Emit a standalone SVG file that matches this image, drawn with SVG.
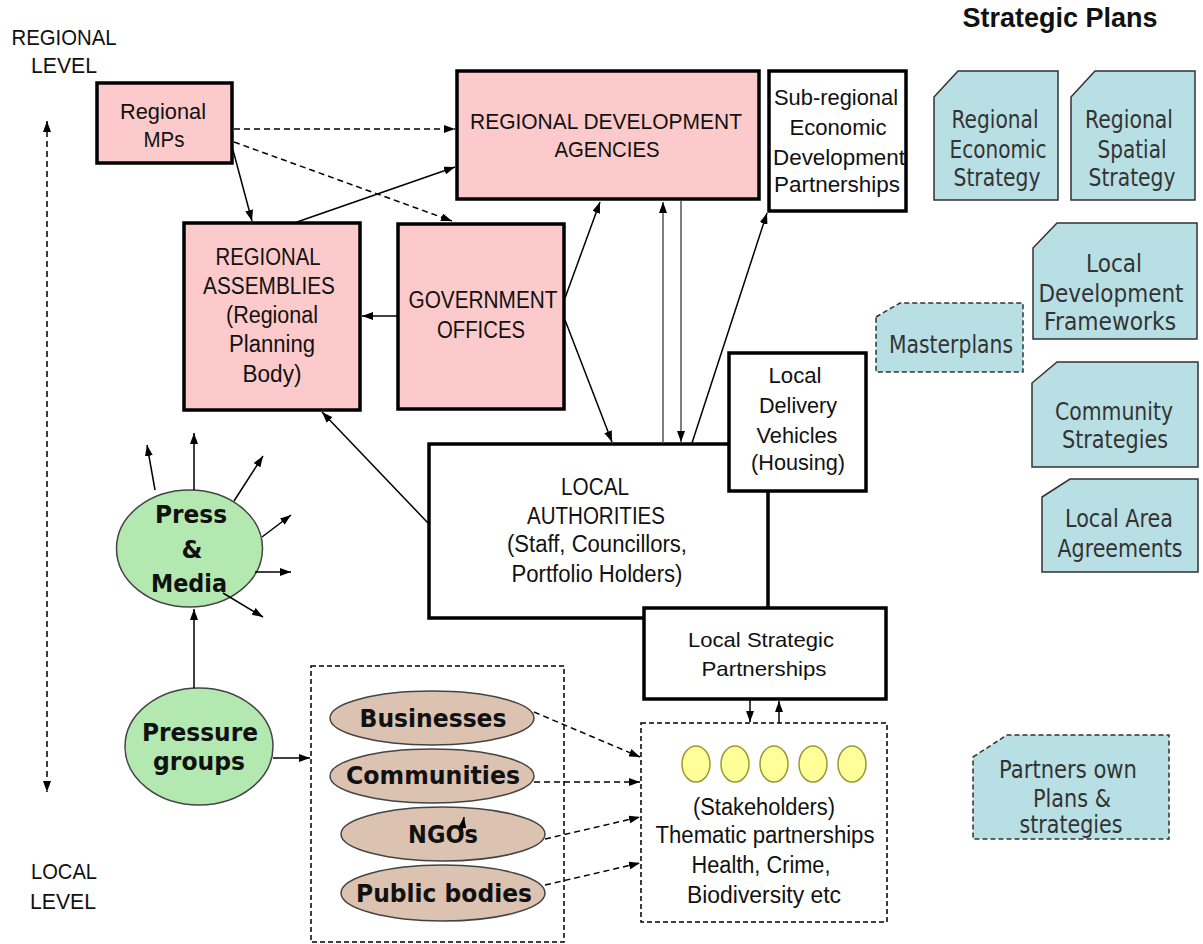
<svg xmlns="http://www.w3.org/2000/svg" width="1203" height="944" viewBox="0 0 1203 944">
<defs>
<style>
.bx{stroke:#000;stroke-width:3.5}
.pink{fill:#fccaca}
.wht{fill:#fff}
.card{fill:#b8dfe3;stroke:#333;stroke-width:1.5}
.dcard{fill:#b8dfe3;stroke:#333;stroke-width:1.5;stroke-dasharray:5,3}
.t{font-family:"Liberation Sans",Arial,sans-serif;fill:#111;text-anchor:middle}
.tb{font-family:"DejaVu Sans",Verdana,sans-serif;font-weight:bold;fill:#111;text-anchor:middle}
.tc{font-family:"DejaVu Sans",Verdana,sans-serif;fill:#333;text-anchor:middle}
.ln{fill:none;stroke:#000;stroke-width:1.5}
.gl{fill:none;stroke:#555;stroke-width:1.5}
.dl{fill:none;stroke:#000;stroke-width:1.5;stroke-dasharray:6,4}
.grn{fill:#b3e8b0;stroke:#444;stroke-width:1.5}
.tan{fill:#dcc2b0;stroke:#444;stroke-width:1.5}
.yel{fill:#ffff99;stroke:#999933;stroke-width:1.5}
.dbox{fill:none;stroke:#000;stroke-width:1.5;stroke-dasharray:5,3}
</style>
<marker id="ah" viewBox="0 0 10 10" refX="10" refY="5" markerWidth="11" markerHeight="8" markerUnits="userSpaceOnUse" orient="auto-start-reverse" preserveAspectRatio="none"><path d="M0,0 L10,5 L0,10 z" fill="#000"/></marker>
</defs>
<rect width="1203" height="944" fill="#fff"/>

<g id="level-labels">
<text class="t" x="64" y="45" font-size="22" textLength="105" lengthAdjust="spacingAndGlyphs">REGIONAL</text>
<text class="t" x="64" y="73" font-size="22" textLength="66" lengthAdjust="spacingAndGlyphs">LEVEL</text>
<text class="t" x="64" y="879" font-size="22" textLength="66" lengthAdjust="spacingAndGlyphs">LOCAL</text>
<text class="t" x="63" y="909" font-size="22" textLength="66" lengthAdjust="spacingAndGlyphs">LEVEL</text>
</g>

<g id="title">
<text class="t" x="1060" y="27" font-size="27" font-weight="bold" textLength="195" lengthAdjust="spacingAndGlyphs">Strategic Plans</text>
</g>

<g id="regional-mps">
<rect class="bx pink" x="97" y="83" width="135" height="80"/>
<text class="t" x="163" y="119" font-size="22" textLength="86" lengthAdjust="spacingAndGlyphs">Regional</text>
<text class="t" x="164" y="147" font-size="22" textLength="41" lengthAdjust="spacingAndGlyphs">MPs</text>
</g>

<g id="rda">
<rect class="bx pink" x="457" y="71" width="302" height="128"/>
<text class="t" x="606" y="129" font-size="22" textLength="272" lengthAdjust="spacingAndGlyphs">REGIONAL DEVELOPMENT</text>
<text class="t" x="607" y="157" font-size="22" textLength="105" lengthAdjust="spacingAndGlyphs">AGENCIES</text>
</g>

<g id="sub-regional">
<rect class="bx wht" x="769" y="71" width="137" height="140"/>
<text class="t" x="836" y="105" font-size="22" textLength="124" lengthAdjust="spacingAndGlyphs">Sub-regional</text>
<text class="t" x="838" y="135" font-size="22" textLength="97" lengthAdjust="spacingAndGlyphs">Economic</text>
<text class="t" x="839" y="165" font-size="22" textLength="132" lengthAdjust="spacingAndGlyphs">Development</text>
<text class="t" x="837" y="192" font-size="22" textLength="126" lengthAdjust="spacingAndGlyphs">Partnerships</text>
</g>

<g id="regional-assemblies">
<rect class="bx pink" x="184" y="223" width="176" height="187"/>
<text class="t" x="268" y="265" font-size="23" textLength="105" lengthAdjust="spacingAndGlyphs">REGIONAL</text>
<text class="t" x="269" y="294" font-size="23" textLength="132" lengthAdjust="spacingAndGlyphs">ASSEMBLIES</text>
<text class="t" x="272" y="323" font-size="23" textLength="92" lengthAdjust="spacingAndGlyphs">(Regional</text>
<text class="t" x="272" y="352" font-size="23" textLength="86" lengthAdjust="spacingAndGlyphs">Planning</text>
<text class="t" x="272" y="382" font-size="23" textLength="59" lengthAdjust="spacingAndGlyphs">Body)</text>
</g>

<g id="government-offices">
<rect class="bx pink" x="398" y="224" width="166" height="185"/>
<text class="t" x="483" y="308" font-size="23" textLength="149" lengthAdjust="spacingAndGlyphs">GOVERNMENT</text>
<text class="t" x="481" y="338" font-size="23" textLength="88" lengthAdjust="spacingAndGlyphs">OFFICES</text>
</g>

<g id="local-authorities">
<rect class="bx wht" x="429" y="444" width="339" height="174"/>
<text class="t" x="595" y="495" font-size="23" textLength="68" lengthAdjust="spacingAndGlyphs">LOCAL</text>
<text class="t" x="596" y="524" font-size="23" textLength="138" lengthAdjust="spacingAndGlyphs">AUTHORITIES</text>
<text class="t" x="597" y="552" font-size="23" textLength="180" lengthAdjust="spacingAndGlyphs">(Staff, Councillors,</text>
<text class="t" x="597" y="582" font-size="23" textLength="171" lengthAdjust="spacingAndGlyphs">Portfolio Holders)</text>
</g>

<g id="local-delivery-vehicles">
<rect class="bx wht" x="729" y="353" width="137" height="138"/>
<text class="t" x="795" y="383" font-size="22" textLength="53" lengthAdjust="spacingAndGlyphs">Local</text>
<text class="t" x="798" y="413" font-size="22" textLength="78" lengthAdjust="spacingAndGlyphs">Delivery</text>
<text class="t" x="797" y="443" font-size="22" textLength="81" lengthAdjust="spacingAndGlyphs">Vehicles</text>
<text class="t" x="798" y="470" font-size="22" textLength="94" lengthAdjust="spacingAndGlyphs">(Housing)</text>
</g>

<g id="local-strategic-partnerships">
<rect class="bx wht" x="644" y="608" width="242" height="91"/>
<text class="t" x="761" y="647" font-size="21" textLength="146" lengthAdjust="spacingAndGlyphs">Local Strategic</text>
<text class="t" x="764" y="676" font-size="21" textLength="125" lengthAdjust="spacingAndGlyphs">Partnerships</text>
</g>

<g id="stakeholders">
<rect class="dbox" x="641" y="723" width="246" height="199"/>
<ellipse class="yel" cx="696" cy="764" rx="14" ry="18"/>
<ellipse class="yel" cx="735" cy="764" rx="14" ry="18"/>
<ellipse class="yel" cx="774" cy="764" rx="14" ry="18"/>
<ellipse class="yel" cx="813" cy="764" rx="14" ry="18"/>
<ellipse class="yel" cx="852" cy="764" rx="14" ry="18"/>
<text class="t" x="764" y="815" font-size="23" textLength="142" lengthAdjust="spacingAndGlyphs">(Stakeholders)</text>
<text class="t" x="765" y="843" font-size="23" textLength="219" lengthAdjust="spacingAndGlyphs">Thematic partnerships</text>
<text class="t" x="761" y="873" font-size="23" textLength="139" lengthAdjust="spacingAndGlyphs">Health, Crime,</text>
<text class="t" x="764" y="903" font-size="23" textLength="154" lengthAdjust="spacingAndGlyphs">Biodiversity etc</text>
</g>

<g id="press-media">
<ellipse class="grn" cx="189.5" cy="548.5" rx="73" ry="58.5"/>
<text class="tb" x="191" y="523" font-size="24" textLength="72" lengthAdjust="spacingAndGlyphs">Press</text>
<text class="tb" x="192" y="558" font-size="24">&amp;</text>
<text class="tb" x="189" y="592" font-size="24" textLength="76" lengthAdjust="spacingAndGlyphs">Media</text>
</g>

<g id="pressure-groups">
<ellipse class="grn" cx="199" cy="746.5" rx="74" ry="58.5"/>
<text class="tb" x="200" y="741" font-size="25" textLength="116" lengthAdjust="spacingAndGlyphs">Pressure</text>
<text class="tb" x="199" y="770" font-size="25" textLength="92" lengthAdjust="spacingAndGlyphs">groups</text>
</g>

<g id="partner-groups">
<rect class="dbox" x="311" y="666" width="253" height="276"/>
<ellipse class="tan" cx="432" cy="718" rx="102" ry="27"/>
<text class="tb" x="433" y="727" font-size="24" textLength="147" lengthAdjust="spacingAndGlyphs">Businesses</text>
<ellipse class="tan" cx="432" cy="776" rx="102" ry="27"/>
<text class="tb" x="433" y="784" font-size="24" textLength="174" lengthAdjust="spacingAndGlyphs">Communities</text>
<ellipse class="tan" cx="443" cy="834" rx="102" ry="27"/>
<text class="tb" x="443" y="843" font-size="24" textLength="70" lengthAdjust="spacingAndGlyphs">NGOs</text>
<ellipse class="tan" cx="443" cy="893" rx="102" ry="28"/>
<text class="tb" x="444" y="902" font-size="24" textLength="176" lengthAdjust="spacingAndGlyphs">Public bodies</text>
</g>

<g id="plan-regional-economic">
<path class="card" d="M934,97 L958,71 L1058,71 L1058,200 L934,200 Z"/>
<text class="tc" x="995" y="128" font-size="24" textLength="87" lengthAdjust="spacingAndGlyphs">Regional</text>
<text class="tc" x="998" y="158" font-size="24" textLength="97" lengthAdjust="spacingAndGlyphs">Economic</text>
<text class="tc" x="997" y="186" font-size="24" textLength="87" lengthAdjust="spacingAndGlyphs">Strategy</text>
</g>

<g id="plan-regional-spatial">
<path class="card" d="M1071,97 L1095,71 L1195,71 L1195,200 L1071,200 Z"/>
<text class="tc" x="1129" y="128" font-size="24" textLength="88" lengthAdjust="spacingAndGlyphs">Regional</text>
<text class="tc" x="1132" y="158" font-size="24" textLength="69" lengthAdjust="spacingAndGlyphs">Spatial</text>
<text class="tc" x="1132" y="186" font-size="24" textLength="87" lengthAdjust="spacingAndGlyphs">Strategy</text>
</g>

<g id="plan-ldf">
<path class="card" d="M1033,248 L1057,223 L1197,223 L1197,339 L1033,339 Z"/>
<text class="tc" x="1114" y="272" font-size="24" textLength="56" lengthAdjust="spacingAndGlyphs">Local</text>
<text class="tc" x="1111" y="302" font-size="24" textLength="145" lengthAdjust="spacingAndGlyphs">Development</text>
<text class="tc" x="1110" y="330" font-size="24" textLength="132" lengthAdjust="spacingAndGlyphs">Frameworks</text>
</g>

<g id="plan-masterplans">
<path class="dcard" d="M876,317 L900,303 L1023,303 L1023,372 L876,372 Z"/>
<text class="tc" x="951" y="353" font-size="24" textLength="124" lengthAdjust="spacingAndGlyphs">Masterplans</text>
</g>

<g id="plan-community">
<path class="card" d="M1032,383 L1057,362 L1198,362 L1198,467 L1032,467 Z"/>
<text class="tc" x="1114" y="420" font-size="24" textLength="118" lengthAdjust="spacingAndGlyphs">Community</text>
<text class="tc" x="1115" y="448" font-size="24" textLength="106" lengthAdjust="spacingAndGlyphs">Strategies</text>
</g>

<g id="plan-laa">
<path class="card" d="M1042,497 L1070,479 L1198,479 L1198,572 L1042,572 Z"/>
<text class="tc" x="1119" y="527" font-size="24" textLength="108" lengthAdjust="spacingAndGlyphs">Local Area</text>
<text class="tc" x="1120" y="557" font-size="24" textLength="125" lengthAdjust="spacingAndGlyphs">Agreements</text>
</g>

<g id="plan-partners">
<path class="dcard" d="M973,757 L1007,735 L1169,735 L1169,839 L973,839 Z"/>
<text class="tc" x="1068" y="778" font-size="24" textLength="138" lengthAdjust="spacingAndGlyphs">Partners own</text>
<text class="tc" x="1072" y="807" font-size="24" textLength="78" lengthAdjust="spacingAndGlyphs">Plans &amp;</text>
<text class="tc" x="1071" y="833" font-size="24" textLength="103" lengthAdjust="spacingAndGlyphs">strategies</text>
</g>

<g id="connectors">
<path class="dl" d="M47,121 L47,792" marker-start="url(#ah)" marker-end="url(#ah)"/>
<path class="dl" d="M234,129 L455,129" marker-end="url(#ah)"/>
<path class="dl" d="M234,142 L452,221" marker-end="url(#ah)"/>
<path class="ln" d="M233,150 L252,221" marker-end="url(#ah)"/>
<path class="ln" d="M297,222 L455,167" marker-end="url(#ah)"/>
<path class="ln" d="M397,316 L362,316" marker-end="url(#ah)"/>
<path class="ln" d="M565,298 L600,202" marker-end="url(#ah)"/>
<path class="ln" d="M565,320 L612,442" marker-end="url(#ah)"/>
<path class="gl" d="M663,443 L663,202" marker-end="url(#ah)"/>
<path class="gl" d="M681,201 L681,442" marker-end="url(#ah)"/>
<path class="ln" d="M692,443 L767,213" marker-end="url(#ah)"/>
<path class="ln" d="M428,523 L322,412" marker-end="url(#ah)"/>
<path class="ln" d="M194,688 L194,609" marker-end="url(#ah)"/>
<path class="ln" d="M155,490 L147,445" marker-end="url(#ah)"/>
<path class="ln" d="M194,490 L194,433" marker-end="url(#ah)"/>
<path class="ln" d="M234,501 L263,456" marker-end="url(#ah)"/>
<path class="ln" d="M262,537 L291,515" marker-end="url(#ah)"/>
<path class="ln" d="M255,572 L291,572" marker-end="url(#ah)"/>
<path class="ln" d="M223,593 L263,617" marker-end="url(#ah)"/>
<path class="ln" d="M273,758 L310,758" marker-end="url(#ah)"/>
<path class="dl" d="M534,712 L640,757" marker-end="url(#ah)"/>
<path class="dl" d="M534,782 L640,782" marker-end="url(#ah)"/>
<path class="dl" d="M545,839 L640,817" marker-end="url(#ah)"/>
<path class="dl" d="M545,885 L640,863" marker-end="url(#ah)"/>
<path class="ln" d="M750,700 L750,722" marker-end="url(#ah)"/>
<path class="ln" d="M779,723 L779,701" marker-end="url(#ah)"/>
<path class="ln" d="M462,830 L464,817" marker-end="url(#ah)"/>
</g>
</svg>
